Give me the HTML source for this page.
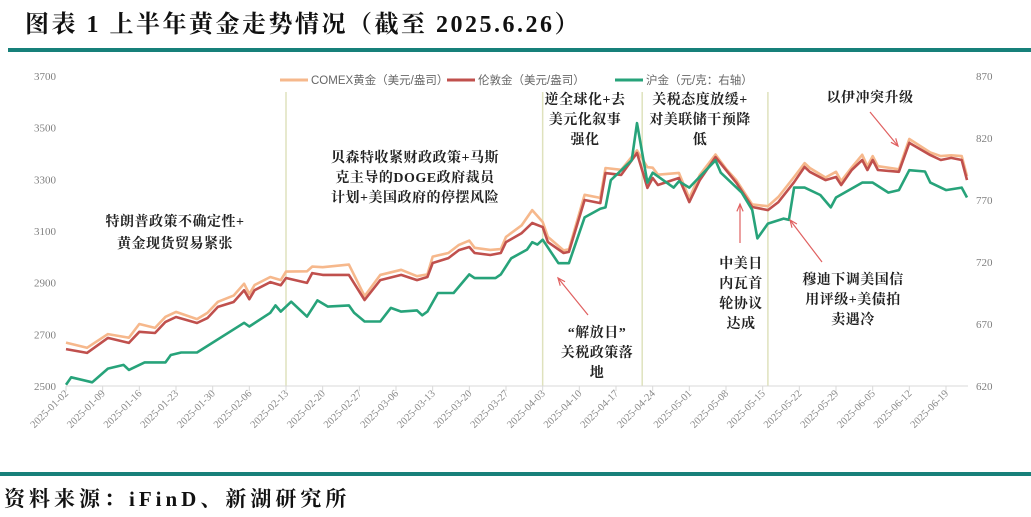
<!DOCTYPE html>
<html><head><meta charset="utf-8">
<style>
body{margin:0;background:#fff;width:1031px;height:517px;overflow:hidden;position:relative;font-family:"Liberation Serif","Noto Serif CJK SC",serif}
.t{position:absolute;white-space:nowrap}
</style></head><body>
<div class="t" style="left:25px;top:4px;font-size:24px;letter-spacing:2.5px;font-weight:bold;color:#111">图表 1 上半年黄金走势情况（截至 2025.6.26）</div>
<div style="position:absolute;left:8px;top:48px;width:1023px;height:4px;background:#17807a"></div>
<div style="position:absolute;left:0;top:472px;width:1031px;height:4px;background:#17807a"></div>
<div class="t" style="left:4px;top:483px;font-size:21px;letter-spacing:4px;font-weight:bold;color:#111">资料来源：iFinD、新湖研究所</div>
<svg id="chart" width="1031" height="517" style="position:absolute;left:0;top:0"></svg>
<script>
const rDays=[0,4,8,12,14,17,19,21,25,27,29,32,34,35,36,39,41,42,46,47,49,54,57,60,64,67,69,70,73,75,77,78,81,83,84,87,89,91,92,95,96,99,102,103,106,109,111,112,113,117,119,121,124,126,128,131,134,136,139,141,142,145,147,148,150,152,153,154,155,159,161,165,167,169,171,172];
const londonVals=[2643,2628,2686,2667,2710,2705,2748,2767,2744,2763,2806,2825,2871,2836,2871,2902,2890,2918,2899,2937,2930,2930,2833,2910,2930,2910,2922,2976,2995,3026,3038,3015,3007,3015,3057,3092,3131,3115,3057,3015,3019,3220,3208,3324,3317,3402,3267,3305,3278,3305,3212,3297,3386,3336,3286,3193,3181,3212,3289,3348,3329,3297,3309,3278,3336,3375,3336,3375,3336,3329,3441,3394,3375,3383,3375,3297];
const comexVals=[2668,2648,2701,2687,2740,2725,2768,2787,2759,2783,2826,2850,2896,2856,2891,2922,2910,2943,2944,2962,2960,2970,2848,2930,2950,2925,2932,3001,3015,3046,3063,3035,3027,3030,3077,3122,3181,3135,3077,3025,3029,3240,3228,3344,3337,3412,3347,3345,3318,3325,3227,3317,3396,3341,3296,3203,3196,3232,3309,3363,3344,3307,3329,3293,3346,3395,3351,3390,3351,3339,3456,3404,3390,3393,3390,3312];
const gDays=[0,1,5,8,11,12,15,19,20,22,25,34,35,39,40,41,43,46,48,50,54,55,57,60,62,64,67,68,69,71,74,77,78,82,83,85,88,89,90,91,94,96,99,102,103,104,108,109,111,112,116,117,119,124,125,129,131,132,134,137,138,139,141,144,146,147,152,154,157,159,161,164,165,168,171,172];
const shVals=[621,627,623,634,637,633,639,639,645,647,647,671,668,679,685,680,688,676,689,684,685,679,672,672,683,680,681,677,680,695,695,710,707,707,710,723,730,736,734,738,719,719,756,763,764,786,802,832,784,792,780,785,780,802,792,776,762,739,751,755,754,780,780,774,764,772,784,784,776,778,794,793,784,778,780,772];
const leftTicks=[2500,2700,2900,3100,3300,3500,3700];
const rightTicks=[620,670,720,770,820,870];
const dateLabels=["2025-01-02","2025-01-09","2025-01-16","2025-01-23","2025-01-30","2025-02-06","2025-02-13","2025-02-20","2025-02-27","2025-03-06","2025-03-13","2025-03-20","2025-03-27","2025-04-03","2025-04-10","2025-04-17","2025-04-24","2025-05-01","2025-05-08","2025-05-15","2025-05-22","2025-05-29","2025-06-05","2025-06-12","2025-06-19"];
const eventDays=[42,91,110,134];

const svg=document.getElementById('chart');const NS='http://www.w3.org/2000/svg';
const X0=66,Y0=386,YT=76;
const xs=d=>X0+d*(880/168);
const yl=v=>Y0-(v-2500)*(Y0-YT)/1200;
const yr=v=>Y0-(v-620)*(Y0-YT)/250;
function mk(tag,attrs,parent){const e=document.createElementNS(NS,tag);for(const k in attrs)e.setAttribute(k,attrs[k]);(parent||svg).appendChild(e);return e;}
const dayOf=s=>(Date.UTC(2025,+s.slice(5,7)-1,+s.slice(8,10))-Date.UTC(2025,0,2))/864e5;

eventDays.forEach(d=>{const l=mk('line',{x1:xs(d),x2:xs(d),y1:92,y2:Y0,stroke:'#dfe2bd','stroke-width':1.5});

});
const ax=mk('line',{x1:X0,x2:968,y1:Y0,y2:Y0,stroke:'#d9d9d9','stroke-width':1});


dateLabels.forEach(s=>{const x=xs(dayOf(s));
mk('line',{x1:x,x2:x,y1:Y0,y2:Y0+5,stroke:'#d9d9d9'});
const t=mk('text',{x:x+3,y:Y0+8,'font-size':10.5,fill:'#8a8a8a','text-anchor':'end',transform:`rotate(-45 ${x+3} ${Y0+8})`,'font-family':'Liberation Serif, serif'});t.textContent=s;

});
leftTicks.forEach(v=>{const t=mk('text',{x:56,y:yl(v)+4,'font-size':11,fill:'#7f7f7f','text-anchor':'end','font-family':'Liberation Serif, serif'});t.textContent=v;

});
rightTicks.forEach(v=>{const t=mk('text',{x:976,y:yr(v)+4,'font-size':11,fill:'#7f7f7f','font-family':'Liberation Serif, serif'});t.textContent=v;

});

function series(days,vals,yf,color,name){const p=days.map((d,i)=>xs(d).toFixed(1)+','+yf(vals[i]).toFixed(1)).join(' ');
const e=mk('polyline',{points:p,fill:'none',stroke:color,'stroke-width':2.6,'stroke-linejoin':'round'});

}
series(rDays,comexVals,yl,'#f6b88c','comex-gold-line');
series(rDays,londonVals,yl,'#c0504d','london-gold-line');
series(gDays,shVals,yr,'#27a37a','shanghai-gold-line');

const lg=[[280,'#f6b88c','COMEX黄金（美元/盎司）'],[447,'#c0504d','伦敦金（美元/盎司）'],[615,'#27a37a','沪金（元/克：右轴）']];
lg.forEach(([x,c,s])=>{mk('line',{x1:x,x2:x+28,y1:80,y2:80,stroke:c,'stroke-width':3});
const t=mk('text',{x:x+31,y:84,'font-size':11.5,fill:'#666','font-family':'Liberation Sans, Noto Sans CJK SC, sans-serif'});t.textContent=s;

});

const notes=[[175,[226,248],['特朗普政策不确定性+','黄金现货贸易紧张']],
[415,[162,182,202],['贝森特收紧财政政策+马斯','克主导的DOGE政府裁员','计划+美国政府的停摆风险']],
[585,[104,124,144],['逆全球化+去','美元化叙事','强化']],
[700,[104,124,144],['关税态度放缓+','对美联储干预降','低']],
[870,[102],['以伊冲突升级']],
[597,[337,357,377],['“解放日”','关税政策落','地']],
[741,[268,288,308,328],['中美日','内瓦首','轮协议','达成']],
[853,[284,304,324],['穆迪下调美国信','用评级+美债拍','卖遇冷']]];
notes.forEach(([x,ys,ls])=>ls.forEach((s,i)=>{const t=mk('text',{x:x,y:ys[i],'font-size':14,'font-weight':'bold',fill:'#222','text-anchor':'middle','letter-spacing':'0.5','font-family':'Liberation Serif, Noto Serif CJK SC, serif'});t.textContent=s;

}));
const arrows=[[588,315,558,278],[740,243,740,204],[822,262,790,220],[870,112,898,146]];
arrows.forEach(([a,b,c,d])=>{const e=mk('line',{x1:a,y1:b,x2:c,y2:d,stroke:'#e06060','stroke-width':1.2});


const ang=Math.atan2(d-b,c-a),L=8;
mk('polyline',{points:`${c-L*Math.cos(ang-0.4)},${d-L*Math.sin(ang-0.4)} ${c},${d} ${c-L*Math.cos(ang+0.4)},${d-L*Math.sin(ang+0.4)}`,fill:'none',stroke:'#e06060','stroke-width':1.2});});
</script>
</body></html>
